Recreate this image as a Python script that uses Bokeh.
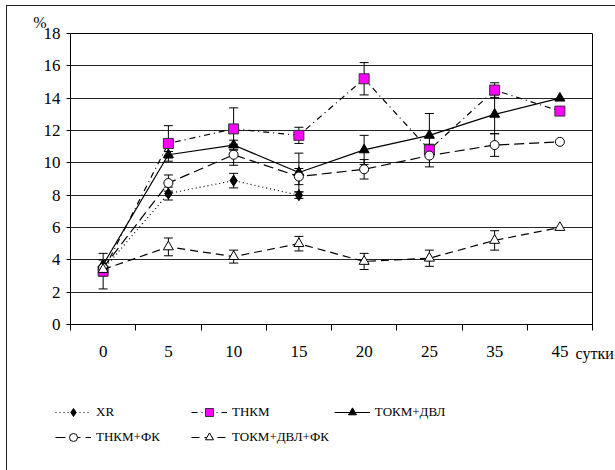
from bokeh.plotting import figure
from bokeh.layouts import column
from bokeh.models import (ColumnDataSource, Whisker, TeeHead, Legend, LegendItem,
                          FixedTicker, Label, Range1d)
from bokeh.embed import file_html
from bokeh.resources import INLINE

days = ["0", "5", "10", "15", "20", "25", "35", "45"]

xr = [3.4, 8.1, 8.9, 8.0]
xr_err = [0.0, 0.4, 0.45, 0.2]

thkm = [3.3, 11.2, 12.1, 11.7, 15.2, 10.8, 14.5, 13.2]
thkm_err = [1.1, 1.1, 1.3, 0.5, 1.0, 0.3, 0.45, 0.0]

tokm = [3.7, 10.5, 11.1, 9.4, 10.8, 11.7, 13.0, 14.0]
tokm_err = [0.3, 0.2, 0.3, 1.2, 0.9, 1.35, 1.2, 0.0]

thkm_fk = [3.5, 8.75, 10.5, 9.15, 9.6, 10.45, 11.1, 11.3]
thkm_fk_err = [0.5, 0.5, 0.65, 0.5, 0.6, 0.7, 0.7, 0.0]

tokm_fk = [3.4, 4.8, 4.2, 5.0, 3.9, 4.1, 5.2, 6.0]
tokm_fk_err = [0.0, 0.55, 0.4, 0.45, 0.5, 0.5, 0.6, 0.0]

labels = ["XR", "ТНКМ", "ТОКМ+ДВЛ", "ТНКМ+ФК", "ТОКМ+ДВЛ+ФК"]
y_ticks = [0, 2, 4, 6, 8, 10, 12, 14, 16, 18]

FONT = "Liberation Serif"

STYLES = [
    dict(dash="1 3", marker="diamond", fill="black", size=11, lc="black"),
    dict(dash="6 4 1 4", marker="square", fill="#FF00FF", size=10, lc="#333333"),
    dict(dash="solid", marker="triangle", fill="black", size=10, lc="black"),
    dict(dash="10 5", marker="circle", fill="white", size=9, lc="black"),
    dict(dash="8 5", marker="triangle", fill="white", size=10, lc="black"),
]

p = figure(width=608, height=390, x_range=Range1d(-0.5, 7.5), y_range=Range1d(0, 18),
           output_backend="svg", toolbar_location=None,
           min_border_left=63, min_border_right=23, min_border_top=27, min_border_bottom=72)
p.frame_align = False
p.outline_line_color = "black"
p.outline_line_width = 1

# axes
p.xaxis.ticker = FixedTicker(ticks=list(range(len(days))),
                             minor_ticks=[i - 0.5 for i in range(len(days) + 1)])
p.xaxis.major_label_overrides = {i: d for i, d in enumerate(days)}
p.xaxis.major_tick_line_color = None
p.xaxis.major_tick_out = 6
p.xaxis.major_tick_in = 0
p.xaxis.minor_tick_line_color = "black"
p.xaxis.minor_tick_out = 6
p.xaxis.minor_tick_in = 0
p.xaxis.major_label_standoff = 15
p.yaxis.ticker = FixedTicker(ticks=y_ticks, minor_ticks=[])
p.yaxis.major_tick_out = 4
p.yaxis.major_tick_in = 0
p.yaxis.major_label_standoff = 6
p.yaxis.major_tick_line_color = "black"
for ax in (p.xaxis, p.yaxis):
    ax.axis_line_color = "black"
    ax.major_label_text_font = FONT
    ax.major_label_text_font_size = "17px"
    ax.major_label_text_color = "black"
p.xgrid.visible = False
p.ygrid.ticker = FixedTicker(ticks=y_ticks)
p.ygrid.grid_line_color = "black"
p.ygrid.grid_line_alpha = 0.85


def series(vals, errs, st):
    xs = list(range(len(vals)))
    src = ColumnDataSource(dict(x=xs, y=vals))
    ex = [x for x, e in zip(xs, errs) if e > 0]
    lo = [v - e for v, e in zip(vals, errs) if e > 0]
    hi = [v + e for v, e in zip(vals, errs) if e > 0]
    wsrc = ColumnDataSource(dict(x=ex, lo=lo, hi=hi))
    w = Whisker(source=wsrc, base="x", lower="lo", upper="hi", line_color="black", line_width=1,
                upper_head=TeeHead(size=9, line_color="black", line_width=1),
                lower_head=TeeHead(size=9, line_color="black", line_width=1))
    p.add_layout(w)
    p.line("x", "y", source=src, line_color="black", line_width=1.2, line_dash=st["dash"])
    p.scatter("x", "y", source=src, marker=st["marker"], size=st["size"],
              fill_color=st["fill"], line_color=st["lc"], line_width=1)


for vals, errs, st in zip([xr, thkm, tokm, thkm_fk, tokm_fk],
                          [xr_err, thkm_err, tokm_err, thkm_fk_err, tokm_fk_err], STYLES):
    series(vals, errs, st)

p.add_layout(Label(x=-1.07, y=19.2, text="%",
                   text_font=FONT, text_font_size="16px", text_baseline="top",
                   text_color="black"), "left")
p.add_layout(Label(x=7.24, y=-1.8, text="сутки",
                   text_font=FONT, text_font_size="16px", text_baseline="middle",
                   text_color="black"), "below")

# legend strip (second canvas under the chart, inside the same outer frame)
pl = figure(width=608, height=74, x_range=Range1d(0, 1), y_range=Range1d(0, 1),
            output_backend="svg", toolbar_location=None, min_border=0,
            min_border_left=0, min_border_right=0, min_border_top=0, min_border_bottom=0,
            x_axis_location=None, y_axis_location=None)
pl.frame_align = False
pl.outline_line_color = None
pl.xgrid.visible = False
pl.ygrid.visible = False
items = []
for lab, st in zip(labels, STYLES):
    nan_src = ColumnDataSource(dict(x=[float("nan")], y=[float("nan")]))
    ln = pl.line("x", "y", source=nan_src, line_color="black", line_width=1.2,
                 line_dash=st["dash"])
    mk = pl.scatter("x", "y", source=nan_src, marker=st["marker"], size=st["size"] - 3,
                    fill_color=st["fill"], line_color=st["lc"], line_width=1)
    items.append(LegendItem(label=lab, renderers=[ln, mk]))

legend = Legend(items=items, location=(48, 23), orientation="horizontal", ncols=3)
legend.background_fill_alpha = 0
legend.border_line_color = None
legend.padding = 0
legend.margin = 0
legend.spacing = 5
legend.glyph_width = 36
legend.glyph_height = 20
legend.label_standoff = 5
legend.label_width = 90
legend.label_height = 20
legend.label_text_font = FONT
legend.label_text_font_size = "13px"
legend.label_text_color = "black"
pl.add_layout(legend, "center")

layout = column(p, pl, spacing=0)
layout.styles = {"margin-left": "6px", "margin-top": "5px",
                 "border-top": "1px solid #222", "border-left": "1px solid #222"}
open("out.html", "w").write(file_html(layout, INLINE))
